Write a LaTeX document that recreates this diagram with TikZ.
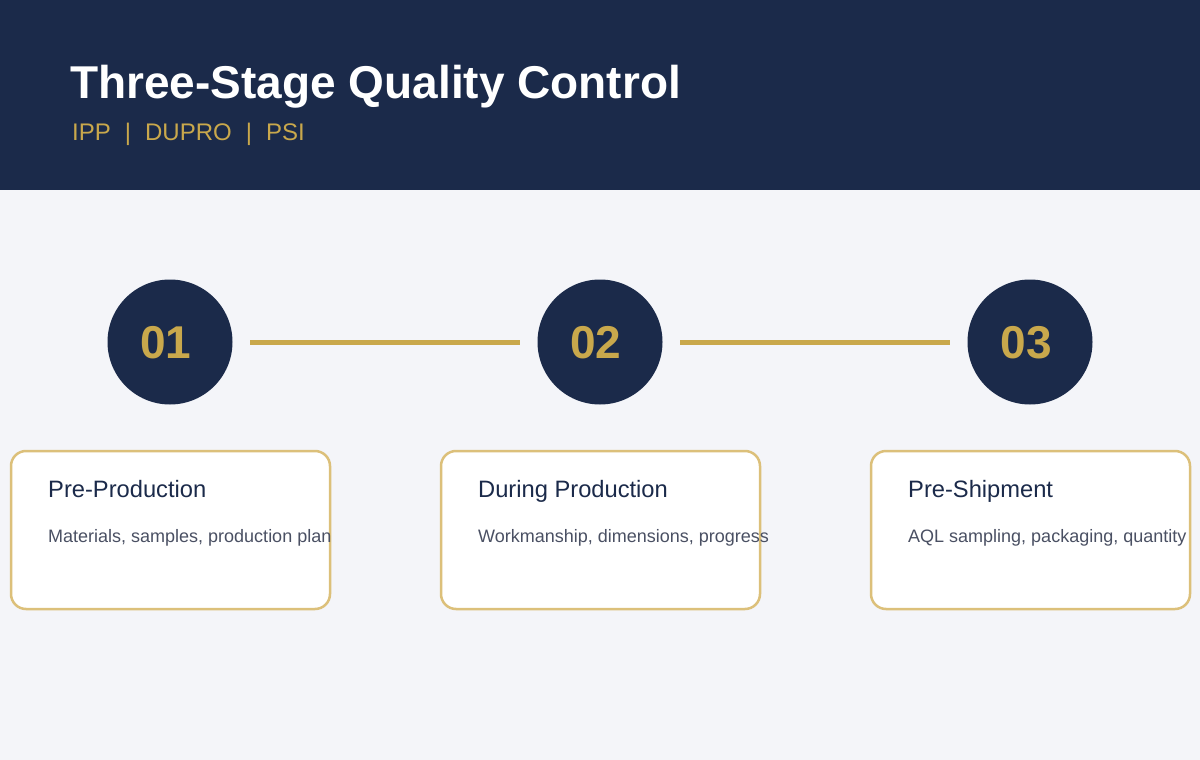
\documentclass[tikz,border=0pt]{standalone}
\usepackage{fontspec}
\setmainfont{Liberation Sans}
\definecolor{navy}{HTML}{1B2A4A}
\definecolor{gold}{HTML}{C9A84C}
\definecolor{goldlight}{HTML}{DCC07A}
\definecolor{bgcol}{HTML}{F4F5F9}
\definecolor{desccol}{HTML}{4A5063}
\tikzset{
  stagecircle/.style={circle, fill=navy, minimum size=125pt, inner sep=0pt},
  stagenum/.style={anchor=base, text=gold, font=\fontsize{46}{50}\selectfont\bfseries, inner sep=0pt},
  link/.style={draw=gold, line width=5pt},
  card/.style={draw=goldlight, line width=2.5pt, fill=white, rounded corners=15pt, minimum width=319pt, minimum height=158pt, inner sep=0pt},
  cardtitle/.style={anchor=base west, text=navy, font=\fontsize{23.7}{28}\selectfont, inner sep=0pt},
  carddesc/.style={anchor=base west, text=desccol, font=\fontsize{18}{22}\selectfont, inner sep=0pt},
}
\begin{document}
\begin{tikzpicture}[x=1pt,y=-1pt]
\useasboundingbox (0,0) rectangle (1200,760);
\fill[bgcol] (0,0) rectangle (1200,760);
\fill[navy] (0,0) rectangle (1200,190);
\node[anchor=base west, inner sep=0pt, text=white, font=\fontsize{46}{50}\selectfont\bfseries] (title) at (70,99) {Three-Stage Quality Control};
\node[anchor=base west, inner sep=0pt, text=gold, font=\fontsize{24}{28}\selectfont] (subtitle) at (72,140) {IPP\hspace{14pt}|\hspace{14pt}DUPRO\hspace{14pt}|\hspace{14pt}PSI};

\node[stagecircle] (c1) at (170,342) {};
\node[stagecircle] (c2) at (600,342) {};
\node[stagecircle] (c3) at (1030,342) {};
\node[stagenum] (n1) at (166,358) {01};
\node[stagenum] (n2) at (596,358) {02};
\node[stagenum] (n3) at (1026,358) {03};

\draw[link] ([xshift=17.5pt]c1.east) -- ([xshift=-17.5pt]c2.west);
\draw[link] ([xshift=17.5pt]c2.east) -- ([xshift=-17.5pt]c3.west);

\node[card] (k1) at (170.5,530) {};
\node[card] (k2) at (600.5,530) {};
\node[card] (k3) at (1030.5,530) {};

\node[cardtitle] (t1) at (48,497) {Pre-Production};
\node[carddesc] (d1) at (48,542) {Materials, samples, production plan};
\node[cardtitle] (t2) at (478,497) {During Production};
\node[carddesc] (d2) at (478,542) {Workmanship, dimensions, progress};
\node[cardtitle] (t3) at (908,497) {Pre-Shipment};
\node[carddesc] (d3) at (908,542) {AQL sampling, packaging, quantity};
\end{tikzpicture}
\end{document}
